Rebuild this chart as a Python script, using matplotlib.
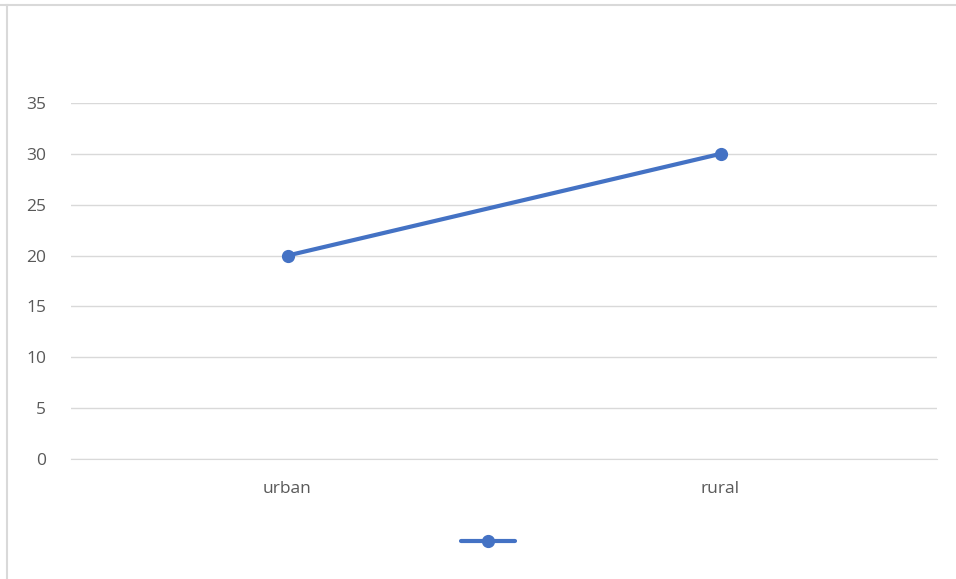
import matplotlib
matplotlib.use("Agg")
import matplotlib.pyplot as plt
from matplotlib.lines import Line2D

categories = ["urban", "rural"]
values = [20, 30]
y_ticks = [0, 5, 10, 15, 20, 25, 30, 35]

BLUE = "#4472C4"
GRID = "#D9D9D9"
TEXT = "#595959"

plt.rcParams["font.family"] = ["Open Sans", "DejaVu Sans"]

fig = plt.figure(figsize=(9.56, 5.79), dpi=100)
ax = fig.add_axes([71 / 956, 1 - 459 / 579, 866 / 956, 356 / 579])

x = list(range(len(categories)))
line, = ax.plot(x, values, color=BLUE, linewidth=3, marker="o",
                markersize=8.5, solid_capstyle="round", zorder=3)

ax.set_xlim(-0.5, len(categories) - 0.5)
ax.set_ylim(0, 35)
ax.set_yticks(y_ticks)
ax.set_xticks(x)
ax.set_xticklabels(categories)
ax.yaxis.grid(True, color=GRID, linewidth=1)
ax.set_axisbelow(True)
for side in ["top", "right", "left"]:
    ax.spines[side].set_visible(False)
ax.spines["bottom"].set_color(GRID)
ax.tick_params(axis="both", length=0, colors=TEXT, labelsize=12.5)
ax.tick_params(axis="y", pad=18)
ax.tick_params(axis="x", pad=15.5)

# chart border (only top and left visible in the crop)
fig.add_artist(Line2D([0, 1], [1 - 4.5 / 579] * 2, color=GRID, linewidth=1.5,
                      transform=fig.transFigure))
fig.add_artist(Line2D([6.5 / 956] * 2, [0, 1 - 4.5 / 579], color=GRID, linewidth=1.5,
                      transform=fig.transFigure))

fig.legend(handles=[line], labels=[""], loc="center",
           bbox_to_anchor=(488 / 956, 1 - 543 / 579), frameon=False,
           handlelength=3.15, handletextpad=0, fontsize=12.5)

fig.savefig("out.png", dpi=100)
